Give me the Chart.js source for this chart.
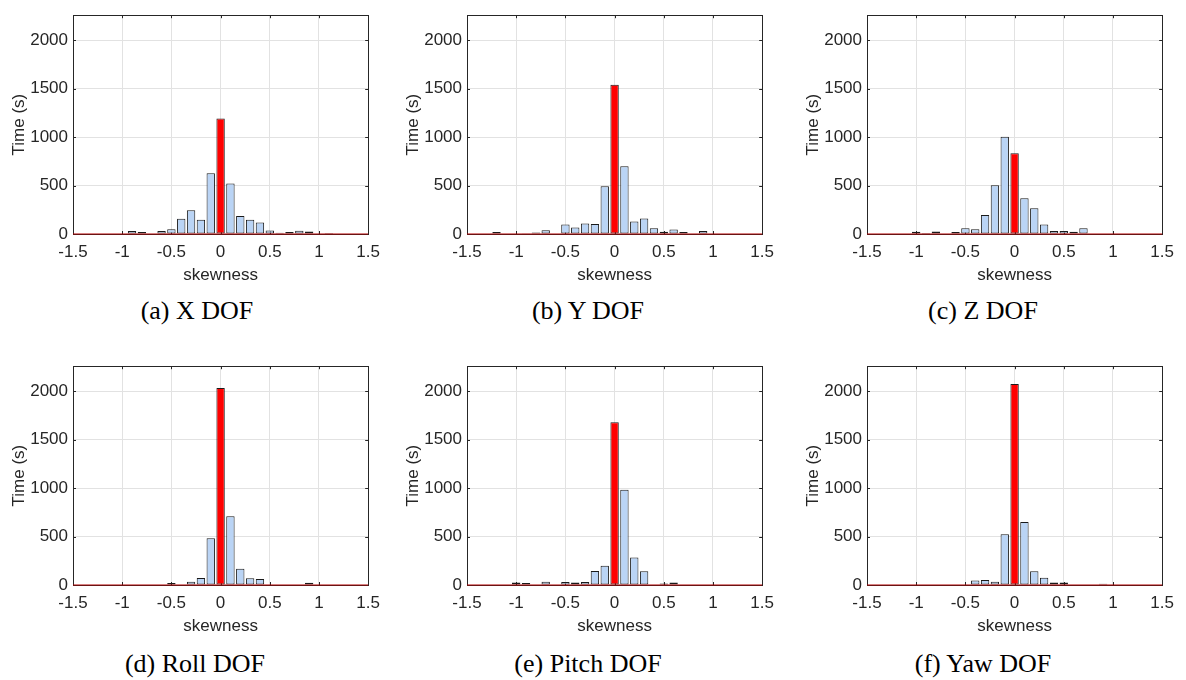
<!DOCTYPE html>
<html lang="en">
  <head>
    <meta charset="UTF-8" />
    <title>Skewness histograms per DOF</title>
    <script src="https://cdn.jsdelivr.net/npm/chart.js@4.4.1/dist/chart.umd.min.js"></script>
    <style>
      body {
        margin: 0;
        background: #fff;
        width: 1186px;
        height: 680px;
        position: relative;
        overflow: hidden;
      }
      canvas {
        position: absolute;
      }
      .caption {
        position: absolute;
        width: 390px;
        text-align: center;
        font-family: "Liberation Serif", "Times New Roman", serif;
        font-size: 26px;
        color: #000;
        line-height: 1;
      }
    </style>
  </head>
  <body>
    <canvas id="c0" width="388" height="286" style="left: 0px; top: 0px"></canvas>
    <canvas id="c1" width="388" height="286" style="left: 394px; top: 0px"></canvas>
    <canvas id="c2" width="388" height="286" style="left: 794px; top: 0px"></canvas>
    <canvas id="c3" width="388" height="286" style="left: 0px; top: 351px"></canvas>
    <canvas id="c4" width="388" height="286" style="left: 394px; top: 351px"></canvas>
    <canvas id="c5" width="388" height="286" style="left: 794px; top: 351px"></canvas>

    <div class="caption" style="left: 2px; top: 298px">(a) X DOF</div>
    <div class="caption" style="left: 393px; top: 298px">(b) Y DOF</div>
    <div class="caption" style="left: 788px; top: 298px">(c) Z DOF</div>
    <div class="caption" style="left: 0px; top: 651px">(d) Roll DOF</div>
    <div class="caption" style="left: 393px; top: 651px">(e) Pitch DOF</div>
    <div class="caption" style="left: 788px; top: 651px">(f) Yaw DOF</div>

    <script>
      // bin centres (skewness)
      const bins = [
        -1.5, -1.4, -1.3, -1.2, -1.1, -1.0, -0.9, -0.8, -0.7, -0.6, -0.5, -0.4, -0.3, -0.2, -0.1, 0,
        0.1, 0.2, 0.3, 0.4, 0.5, 0.6, 0.7, 0.8, 0.9, 1.0, 1.1, 1.2, 1.3, 1.4, 1.5,
      ];

      // time (s) spent in each bin
      const x_dof = [0, 0, 0, 0, 0, 0, 30, 20, 0, 30, 50, 158, 246, 148, 627, 1192, 522, 187, 148, 118, 36, 13, 20, 33, 26, 0, 10, 0, 0, 0, 0];
      const y_dof = [0, 0, 0, 20, 0, 0, 8, 16, 40, 0, 99, 66, 108, 102, 493, 1541, 700, 128, 161, 59, 23, 46, 20, 0, 30, 0, 0, 0, 0, 0, 0];
      const z_dof = [0, 0, 0, 0, 0, 23, 10, 26, 0, 20, 59, 50, 197, 503, 1005, 835, 368, 266, 99, 30, 30, 23, 59, 0, 0, 0, 0, 0, 0, 0, 0];
      const roll_dof = [0, 0, 0, 0, 0, 0, 0, 0, 0, 0, 20, 0, 33, 72, 482, 2036, 710, 167, 69, 62, 0, 0, 0, 0, 23, 0, 0, 0, 0, 0, 0];
      const pitch_dof = [0, 0, 0, 0, 0, 26, 20, 0, 33, 0, 30, 26, 30, 144, 200, 1680, 985, 285, 141, 0, 16, 26, 0, 0, 0, 0, 0, 0, 0, 0, 0];
      const yaw_dof = [0, 0, 0, 0, 0, 0, 0, 0, 0, 0, 0, 46, 52, 33, 525, 2077, 650, 141, 75, 26, 26, 0, 0, 0, 13, 0, 0, 0, 0, 0, 0];

      const x_ticks = [-1.5, -1, -0.5, 0, 0.5, 1, 1.5];
      const y_ticks = [0, 500, 1000, 1500, 2000];
      const y_max = 2260;

      const panels = [x_dof, y_dof, z_dof, roll_dof, pitch_dof, yaw_dof];

      const BLUE = "rgb(186,212,245)";
      const RED = "#ff0000";
      const font = { family: "Liberation Sans, Arial, sans-serif", size: 17 };
      const text_color = "#262626";

      // matlab-style box with inward ticks on all four sides, under the bars
      const box_plugin = {
        id: "box",
        beforeDatasetsDraw(chart) {
          const { ctx, chartArea: a, scales } = chart;
          ctx.save();
          ctx.strokeStyle = "#262626";
          ctx.lineWidth = 1;
          ctx.beginPath();
          x_ticks.forEach(v => {
            const px = Math.round(scales.x.getPixelForValue(v)) + 0.5;
            ctx.moveTo(px, a.bottom);
            ctx.lineTo(px, a.bottom - 3);
            ctx.moveTo(px, a.top);
            ctx.lineTo(px, a.top + 3);
          });
          y_ticks.forEach(v => {
            const py = Math.round(scales.y.getPixelForValue(v)) + 0.5;
            ctx.moveTo(a.left, py);
            ctx.lineTo(a.left + 3, py);
            ctx.moveTo(a.right, py);
            ctx.lineTo(a.right - 3, py);
          });
          ctx.stroke();
          ctx.strokeRect(Math.round(a.left) + 0.5, Math.round(a.top) + 0.5, Math.round(a.right - a.left), Math.round(a.bottom - a.top));
          ctx.restore();
        },
      };

      const make_chart = (id, values) =>
        new Chart(document.getElementById(id), {
          type: "bar",
          data: {
            datasets: [
              {
                type: "line",
                data: [
                  { x: bins[0], y: 0 },
                  { x: bins[bins.length - 1], y: 0 },
                ],
                borderColor: "#b00000",
                borderWidth: 1,
                pointRadius: 0,
                clip: false,
                order: 0,
              },
              {
                data: bins.map((b, i) => ({ x: b, y: values[i] })),
                backgroundColor: bins.map(b => (b === 0 ? RED : BLUE)),
                borderColor: "#1a1a1a",
                borderWidth: 1,
                borderSkipped: false,
                barPercentage: 0.85,
                categoryPercentage: 1,
                order: 1,
              },
            ],
          },
          options: {
            responsive: false,
            animation: false,
            layout: { padding: { top: 5, right: 10, left: 0, bottom: 0 } },
            plugins: { legend: { display: false }, tooltip: { enabled: false } },
            scales: {
              x: {
                type: "linear",
                offset: false,
                min: -1.5,
                max: 1.5,
                afterBuildTicks: s => (s.ticks = x_ticks.map(v => ({ value: v }))),
                ticks: { font, color: text_color, padding: 8, maxRotation: 0, callback: v => String(v) },
                grid: { color: "#e2e2e2", drawTicks: false, offset: false },
                border: { display: false },
                title: { display: true, text: "skewness", font, color: text_color, padding: { top: 0, bottom: 0 } },
                afterFit: s => (s.height = 52),
              },
              y: {
                min: 0,
                max: y_max,
                afterBuildTicks: s => (s.ticks = y_ticks.map(v => ({ value: v }))),
                ticks: { font, color: text_color, padding: 5, callback: v => String(v) },
                grid: { color: "#e2e2e2", drawTicks: false },
                border: { display: false },
                title: { display: true, text: "Time (s)", font, color: text_color, padding: { top: 9, bottom: 0 } },
                afterFit: s => (s.width = 73),
              },
            },
          },
          plugins: [box_plugin],
        });

      panels.forEach((vals, i) => make_chart("c" + i, vals));
    </script>
  </body>
</html>
